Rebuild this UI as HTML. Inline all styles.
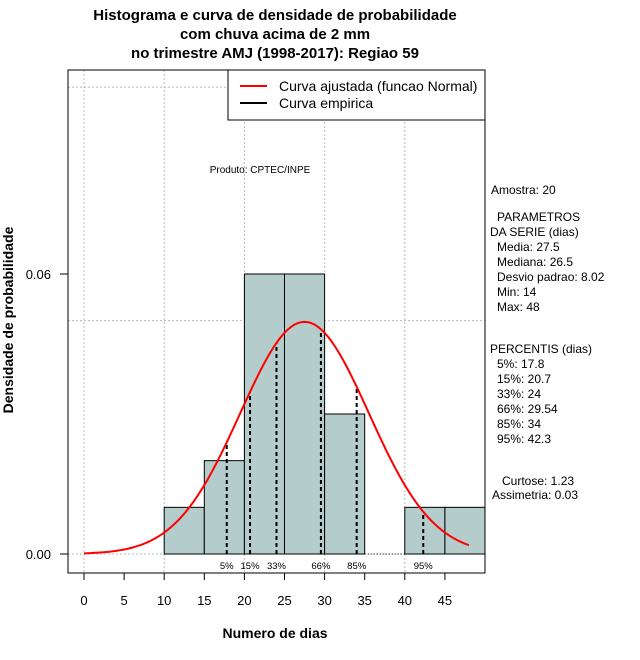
<!DOCTYPE html>
<html><head><meta charset="utf-8"><style>
body{margin:0;background:#fff;}
svg{display:block;font-family:"Liberation Sans",sans-serif;}
</style></head><body>
<svg width="640" height="660" viewBox="0 0 640 660" xmlns="http://www.w3.org/2000/svg">
<g font-weight="bold" font-size="15" text-anchor="middle">
<text x="275" y="20">Histograma e curva de densidade de probabilidade</text>
<text x="275" y="39">com chuva acima de 2 mm</text>
<text x="275" y="58">no trimestre AMJ (1998-2017): Regiao 59</text>
</g>
<g id="grid"></g>
<g id="bars"></g>
<g id="pct"></g>
<path id="curve" fill="none" stroke="#ff0000" stroke-width="2"/>
<rect x="68" y="70" width="417" height="503" fill="none" stroke="#000"/>
<g id="xaxis" font-size="13" text-anchor="middle"></g>
<g id="yaxis" font-size="13" text-anchor="end"></g>
<text x="275" y="638" font-size="14" font-weight="bold" text-anchor="middle">Numero de dias</text>
<text transform="translate(13,320) rotate(-90)" font-size="14" font-weight="bold" text-anchor="middle">Densidade de probabilidade</text>
<g>
<rect x="228" y="70" width="257" height="50" fill="#fff" stroke="#000"/>
<line x1="240" y1="86" x2="267" y2="86" stroke="#ff0000" stroke-width="2"/>
<line x1="240" y1="103" x2="267" y2="103" stroke="#000" stroke-width="2"/>
<text x="279" y="91" font-size="14">Curva ajustada (funcao Normal)</text>
<text x="279" y="108" font-size="14">Curva empirica</text>
</g>
<text x="260" y="173" font-size="10" text-anchor="middle">Produto: CPTEC/INPE</text>
<g font-size="12">
<text x="491" y="194">Amostra: 20</text>
<text x="497" y="221">PARAMETROS</text>
<text x="490" y="236">DA SERIE (dias)</text>
<text x="497" y="251">Media: 27.5</text>
<text x="497" y="266">Mediana: 26.5</text>
<text x="497" y="281">Desvio padrao: 8.02</text>
<text x="497" y="296">Min: 14</text>
<text x="497" y="311">Max: 48</text>
<text x="490" y="353">PERCENTIS (dias)</text>
<text x="497" y="368">5%: 17.8</text>
<text x="497" y="383">15%: 20.7</text>
<text x="497" y="398">33%: 24</text>
<text x="497" y="413">66%: 29.54</text>
<text x="497" y="428">85%: 34</text>
<text x="497" y="443">95%: 42.3</text>
<text x="502" y="485">Curtose: 1.23</text>
<text x="492" y="499">Assimetria: 0.03</text>
</g>
<script>
const binStarts=[10,15,20,25,30,35,40,45];
const densities=[0.01,0.02,0.06,0.06,0.03,0,0.01,0.01];
const xTicks=[0,5,10,15,20,25,30,35,40,45];
const yTicks=[0,0.06];
const yTickLabels=["0.00","0.06"];
const pctValues=[17.8,20.7,24,29.54,34,42.3];
const pctLabels=["5%","15%","33%","66%","85%","95%"];
const mean=27.5, sd=8.02, curveMin=0, curveMax=48;
const NS="http://www.w3.org/2000/svg";
const X=v=>84+v*8.02, Y=v=>554-v*4667;
const dn=x=>Math.exp(-0.5*((x-mean)/sd)**2)/(sd*Math.sqrt(2*Math.PI));
function mk(t,a,p){const e=document.createElementNS(NS,t);for(const k in a)e.setAttribute(k,a[k]);p.appendChild(e);return e;}
const grid=document.getElementById('grid');
[0,10,20,30,40].forEach(v=>{const l=mk('line',{x1:X(v),x2:X(v),y1:70,y2:573,stroke:'#bbb','stroke-dasharray':'2,2'},grid);

});
[0,0.05,0.10].forEach(v=>{const l=mk('line',{x1:68,x2:485,y1:Y(v),y2:Y(v),stroke:'#bbb','stroke-dasharray':'2,2'},grid);

});
const bars=document.getElementById('bars');
binStarts.forEach((b,i)=>{const d=densities[i];
if(d>0){const r=mk('rect',{x:X(b),y:Y(d),width:X(b+5)-X(b),height:Y(0)-Y(d),fill:'#b4cccc',stroke:'#000'},bars);

}
else{const l=mk('line',{x1:X(b),x2:X(b+5),y1:Y(0),y2:Y(0),stroke:'#000','stroke-dasharray':'1,2'},bars);

}});
const pct=document.getElementById('pct');
pctValues.forEach((v,i)=>{const l=mk('line',{x1:X(v),x2:X(v),y1:Y(0),y2:Y(dn(v)),stroke:'#000','stroke-width':2,'stroke-dasharray':'4,3'},pct);


const t=mk('text',{x:X(v),y:569,'font-size':9.5,'text-anchor':'middle'},pct);t.textContent=pctLabels[i];

});
let d='';for(let x=curveMin;x<=curveMax+1e-9;x+=0.25){d+=(d?'L':'M')+X(x).toFixed(2)+','+Y(dn(x)).toFixed(2);}
document.getElementById('curve').setAttribute('d',d);
const xa=document.getElementById('xaxis');
xTicks.forEach(v=>{const l=mk('line',{x1:X(v),x2:X(v),y1:573,y2:580,stroke:'#000'},xa);


const t=mk('text',{x:X(v),y:605},xa);t.textContent=v;

});
const ya=document.getElementById('yaxis');
yTicks.forEach((v,i)=>{const l=mk('line',{x1:60,x2:68,y1:Y(v),y2:Y(v),stroke:'#000'},ya);


const t=mk('text',{x:51,y:Y(v)+5},ya);t.textContent=yTickLabels[i];

});
</script>
</svg>
</body></html>
